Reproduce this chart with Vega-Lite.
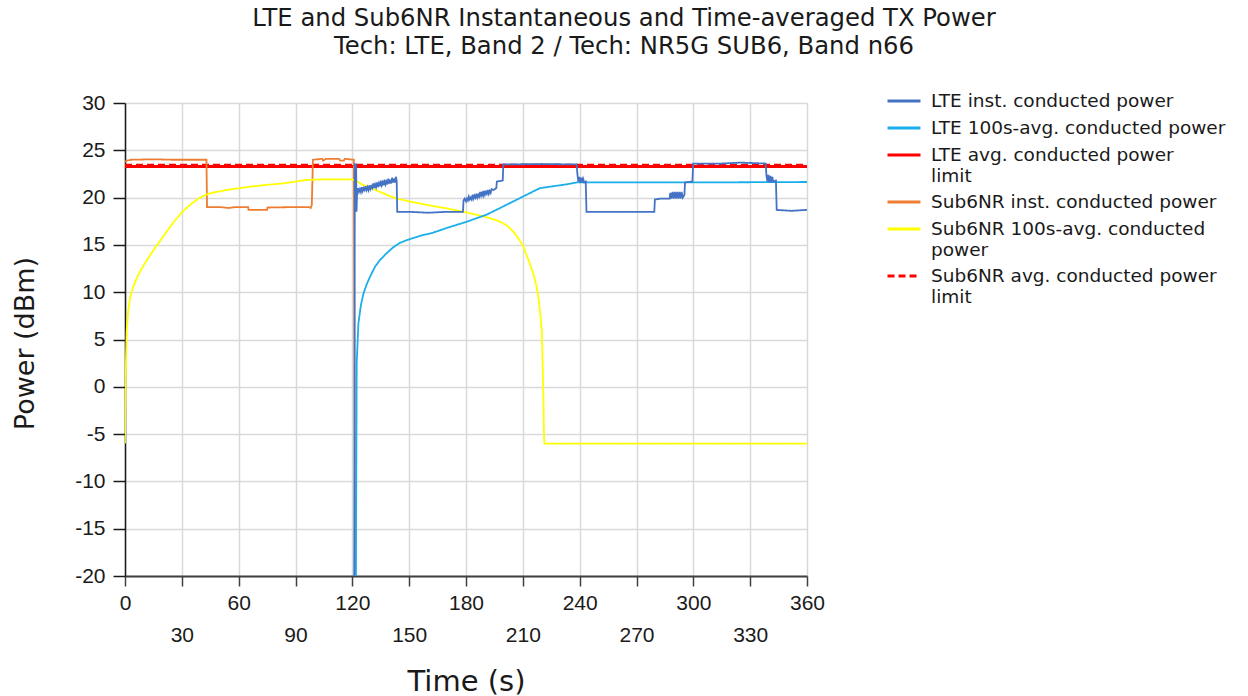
{
  "$schema": "https://vega.github.io/schema/vega-lite/v6.json",
  "width": 682,
  "height": 473,
  "autosize": {"type": "none"},
  "padding": {"left": 125, "top": 103, "right": 441, "bottom": 120},
  "background": "white",
  "config": {"view": {"stroke": null}, "font": "DejaVu Sans"},
  "title": {
    "text": ["LTE and Sub6NR Instantaneous and Time-averaged TX Power", "Tech: LTE, Band 2 / Tech: NR5G SUB6, Band n66"],
    "font": "DejaVu Sans",
    "fontSize": 24.3,
    "fontWeight": "normal",
    "color": "#1a1a1a",
    "anchor": "middle",
    "frame": "group",
    "dx": 158,
    "lineHeight": 28,
    "offset": 32
  },
  "data": {
    "values": [
      {"s": "LTE_lim", "t": 0, "v": 23.3},
      {"s": "LTE_lim", "t": 360, "v": 23.3},
      {"s": "NR_lim", "t": 0, "v": 23.42},
      {"s": "NR_lim", "t": 360, "v": 23.42},

      {"s": "NR_inst", "t": 0, "v": 23.8},
      {"s": "NR_inst", "t": 1, "v": 23.9},
      {"s": "NR_inst", "t": 3, "v": 24.0},
      {"s": "NR_inst", "t": 15, "v": 24.05},
      {"s": "NR_inst", "t": 25, "v": 24.0},
      {"s": "NR_inst", "t": 43.0, "v": 24.0},
      {"s": "NR_inst", "t": 43.3, "v": 19.0},
      {"s": "NR_inst", "t": 50, "v": 19.0},
      {"s": "NR_inst", "t": 55, "v": 18.9},
      {"s": "NR_inst", "t": 58, "v": 19.0},
      {"s": "NR_inst", "t": 65, "v": 19.0},
      {"s": "NR_inst", "t": 65.2, "v": 18.7},
      {"s": "NR_inst", "t": 75, "v": 18.7},
      {"s": "NR_inst", "t": 75.2, "v": 18.95},
      {"s": "NR_inst", "t": 90, "v": 19.0},
      {"s": "NR_inst", "t": 97, "v": 19.0},
      {"s": "NR_inst", "t": 98, "v": 18.9},
      {"s": "NR_inst", "t": 98.6, "v": 19.2},
      {"s": "NR_inst", "t": 99.2, "v": 24.0},
      {"s": "NR_inst", "t": 104, "v": 24.1},
      {"s": "NR_inst", "t": 104.6, "v": 23.9},
      {"s": "NR_inst", "t": 106, "v": 24.1},
      {"s": "NR_inst", "t": 113, "v": 24.1},
      {"s": "NR_inst", "t": 113.6, "v": 23.9},
      {"s": "NR_inst", "t": 115.5, "v": 23.9},
      {"s": "NR_inst", "t": 116, "v": 24.1},
      {"s": "NR_inst", "t": 120.8, "v": 24.0},
      {"s": "NR_inst", "t": 121.6, "v": -20},

      {"s": "NR_avg", "t": 0, "v": -6.0},
      {"s": "NR_avg", "t": 0.4, "v": 1.8},
      {"s": "NR_avg", "t": 0.9, "v": 6.0},
      {"s": "NR_avg", "t": 1.7, "v": 8.0},
      {"s": "NR_avg", "t": 2.6, "v": 9.3},
      {"s": "NR_avg", "t": 3.5, "v": 10.0},
      {"s": "NR_avg", "t": 4.4, "v": 10.6},
      {"s": "NR_avg", "t": 6, "v": 11.4},
      {"s": "NR_avg", "t": 8, "v": 12.2},
      {"s": "NR_avg", "t": 10, "v": 12.9},
      {"s": "NR_avg", "t": 13.2, "v": 13.9},
      {"s": "NR_avg", "t": 17, "v": 15.0},
      {"s": "NR_avg", "t": 22, "v": 16.4},
      {"s": "NR_avg", "t": 26, "v": 17.5},
      {"s": "NR_avg", "t": 30.8, "v": 18.6},
      {"s": "NR_avg", "t": 35, "v": 19.35},
      {"s": "NR_avg", "t": 39.6, "v": 20.0},
      {"s": "NR_avg", "t": 44, "v": 20.4},
      {"s": "NR_avg", "t": 48.4, "v": 20.6},
      {"s": "NR_avg", "t": 55, "v": 20.85},
      {"s": "NR_avg", "t": 66, "v": 21.15},
      {"s": "NR_avg", "t": 75, "v": 21.35},
      {"s": "NR_avg", "t": 83.6, "v": 21.5},
      {"s": "NR_avg", "t": 90, "v": 21.7},
      {"s": "NR_avg", "t": 95.9, "v": 21.86},
      {"s": "NR_avg", "t": 105, "v": 21.93},
      {"s": "NR_avg", "t": 118.8, "v": 21.93},
      {"s": "NR_avg", "t": 121.4, "v": 21.85},
      {"s": "NR_avg", "t": 125, "v": 21.4},
      {"s": "NR_avg", "t": 130, "v": 21.0},
      {"s": "NR_avg", "t": 134.6, "v": 20.6},
      {"s": "NR_avg", "t": 140, "v": 20.15},
      {"s": "NR_avg", "t": 143.4, "v": 19.9},
      {"s": "NR_avg", "t": 150, "v": 19.6},
      {"s": "NR_avg", "t": 160, "v": 19.2},
      {"s": "NR_avg", "t": 170, "v": 18.85},
      {"s": "NR_avg", "t": 178.6, "v": 18.5},
      {"s": "NR_avg", "t": 187.4, "v": 18.1},
      {"s": "NR_avg", "t": 193, "v": 17.8},
      {"s": "NR_avg", "t": 198, "v": 17.45},
      {"s": "NR_avg", "t": 202, "v": 17.0},
      {"s": "NR_avg", "t": 205, "v": 16.4},
      {"s": "NR_avg", "t": 208, "v": 15.6},
      {"s": "NR_avg", "t": 210.3, "v": 14.8},
      {"s": "NR_avg", "t": 213, "v": 13.4},
      {"s": "NR_avg", "t": 215.5, "v": 12.0},
      {"s": "NR_avg", "t": 217, "v": 10.8},
      {"s": "NR_avg", "t": 218.2, "v": 9.5},
      {"s": "NR_avg", "t": 219.3, "v": 7.5},
      {"s": "NR_avg", "t": 220, "v": 6.0},
      {"s": "NR_avg", "t": 220.5, "v": 2.1},
      {"s": "NR_avg", "t": 220.9, "v": -1.7},
      {"s": "NR_avg", "t": 221.2, "v": -5.5},
      {"s": "NR_avg", "t": 221.4, "v": -6.0},
      {"s": "NR_avg", "t": 360, "v": -6.0},

      {"s": "LTE_avg", "t": 121.9, "v": -20},
      {"s": "LTE_avg", "t": 122.3, "v": 2.5},
      {"s": "LTE_avg", "t": 123.2, "v": 6.7},
      {"s": "LTE_avg", "t": 124.5, "v": 8.6},
      {"s": "LTE_avg", "t": 125.8, "v": 9.8},
      {"s": "LTE_avg", "t": 127.5, "v": 10.8},
      {"s": "LTE_avg", "t": 129.5, "v": 11.7},
      {"s": "LTE_avg", "t": 132, "v": 12.7},
      {"s": "LTE_avg", "t": 134.6, "v": 13.4},
      {"s": "LTE_avg", "t": 138, "v": 14.1},
      {"s": "LTE_avg", "t": 141.6, "v": 14.75},
      {"s": "LTE_avg", "t": 145, "v": 15.2},
      {"s": "LTE_avg", "t": 148.7, "v": 15.5},
      {"s": "LTE_avg", "t": 155.7, "v": 15.95},
      {"s": "LTE_avg", "t": 162.7, "v": 16.3},
      {"s": "LTE_avg", "t": 170, "v": 16.8},
      {"s": "LTE_avg", "t": 180.4, "v": 17.45},
      {"s": "LTE_avg", "t": 190.9, "v": 18.2},
      {"s": "LTE_avg", "t": 198, "v": 18.9},
      {"s": "LTE_avg", "t": 204, "v": 19.5},
      {"s": "LTE_avg", "t": 212, "v": 20.3},
      {"s": "LTE_avg", "t": 219, "v": 21.0},
      {"s": "LTE_avg", "t": 226, "v": 21.2},
      {"s": "LTE_avg", "t": 233, "v": 21.4},
      {"s": "LTE_avg", "t": 238.4, "v": 21.6},
      {"s": "LTE_avg", "t": 300, "v": 21.6},
      {"s": "LTE_avg", "t": 360, "v": 21.65},

      {"s": "LTE_inst", "t": 121.0, "v": -20},
      {"s": "LTE_inst", "t": 121.3, "v": 23.5},
      {"s": "LTE_inst", "t": 122.0, "v": 23.5},
      {"s": "LTE_inst", "t": 122.2, "v": 18.5},
      {"s": "LTE_inst", "t": 122.5, "v": 20.5},
      {"s": "LTE_inst", "t": 123, "v": 21.0},
      {"s": "LTE_inst", "t": 123.5, "v": 20.6},
      {"s": "LTE_inst", "t": 124, "v": 20.9},
      {"s": "LTE_inst", "t": 124.5, "v": 20.6},
      {"s": "LTE_inst", "t": 125, "v": 21.1},
      {"s": "LTE_inst", "t": 125.5, "v": 20.7},
      {"s": "LTE_inst", "t": 126, "v": 21.0},
      {"s": "LTE_inst", "t": 126.5, "v": 20.8},
      {"s": "LTE_inst", "t": 127, "v": 21.2},
      {"s": "LTE_inst", "t": 127.5, "v": 20.8},
      {"s": "LTE_inst", "t": 128, "v": 21.1},
      {"s": "LTE_inst", "t": 128.5, "v": 20.8},
      {"s": "LTE_inst", "t": 129, "v": 21.3},
      {"s": "LTE_inst", "t": 129.5, "v": 20.9},
      {"s": "LTE_inst", "t": 130, "v": 21.2},
      {"s": "LTE_inst", "t": 130.5, "v": 21.0},
      {"s": "LTE_inst", "t": 131, "v": 21.5},
      {"s": "LTE_inst", "t": 131.5, "v": 21.0},
      {"s": "LTE_inst", "t": 132, "v": 21.4},
      {"s": "LTE_inst", "t": 132.5, "v": 21.1},
      {"s": "LTE_inst", "t": 133, "v": 21.6},
      {"s": "LTE_inst", "t": 133.5, "v": 21.1},
      {"s": "LTE_inst", "t": 134, "v": 21.5},
      {"s": "LTE_inst", "t": 134.5, "v": 21.2},
      {"s": "LTE_inst", "t": 135, "v": 21.8},
      {"s": "LTE_inst", "t": 135.5, "v": 21.3},
      {"s": "LTE_inst", "t": 136, "v": 21.6},
      {"s": "LTE_inst", "t": 136.5, "v": 21.3},
      {"s": "LTE_inst", "t": 137, "v": 21.9},
      {"s": "LTE_inst", "t": 137.5, "v": 21.4},
      {"s": "LTE_inst", "t": 138, "v": 21.7},
      {"s": "LTE_inst", "t": 138.5, "v": 21.4},
      {"s": "LTE_inst", "t": 139, "v": 22.0},
      {"s": "LTE_inst", "t": 139.5, "v": 21.5},
      {"s": "LTE_inst", "t": 140, "v": 21.9},
      {"s": "LTE_inst", "t": 140.5, "v": 21.5},
      {"s": "LTE_inst", "t": 141, "v": 22.1},
      {"s": "LTE_inst", "t": 141.5, "v": 21.6},
      {"s": "LTE_inst", "t": 142, "v": 22.0},
      {"s": "LTE_inst", "t": 142.5, "v": 21.6},
      {"s": "LTE_inst", "t": 143.0, "v": 22.2},
      {"s": "LTE_inst", "t": 143.4, "v": 21.8},
      {"s": "LTE_inst", "t": 143.7, "v": 18.5},
      {"s": "LTE_inst", "t": 150, "v": 18.5},
      {"s": "LTE_inst", "t": 160, "v": 18.4},
      {"s": "LTE_inst", "t": 170, "v": 18.5},
      {"s": "LTE_inst", "t": 178.4, "v": 18.5},
      {"s": "LTE_inst", "t": 178.7, "v": 19.7},
      {"s": "LTE_inst", "t": 179.3, "v": 19.9},
      {"s": "LTE_inst", "t": 180, "v": 19.6},
      {"s": "LTE_inst", "t": 180.5, "v": 19.9},
      {"s": "LTE_inst", "t": 181, "v": 19.7},
      {"s": "LTE_inst", "t": 181.5, "v": 20.1},
      {"s": "LTE_inst", "t": 182, "v": 19.8},
      {"s": "LTE_inst", "t": 182.5, "v": 20.0},
      {"s": "LTE_inst", "t": 183, "v": 19.8},
      {"s": "LTE_inst", "t": 183.5, "v": 20.3},
      {"s": "LTE_inst", "t": 184, "v": 19.9},
      {"s": "LTE_inst", "t": 184.5, "v": 20.2},
      {"s": "LTE_inst", "t": 185, "v": 20.0},
      {"s": "LTE_inst", "t": 185.5, "v": 20.4},
      {"s": "LTE_inst", "t": 186, "v": 20.0},
      {"s": "LTE_inst", "t": 186.5, "v": 20.3},
      {"s": "LTE_inst", "t": 187, "v": 20.1},
      {"s": "LTE_inst", "t": 187.5, "v": 20.6},
      {"s": "LTE_inst", "t": 188, "v": 20.2},
      {"s": "LTE_inst", "t": 188.5, "v": 20.5},
      {"s": "LTE_inst", "t": 189, "v": 20.2},
      {"s": "LTE_inst", "t": 189.5, "v": 20.7},
      {"s": "LTE_inst", "t": 190, "v": 20.3},
      {"s": "LTE_inst", "t": 190.5, "v": 20.6},
      {"s": "LTE_inst", "t": 191, "v": 20.4},
      {"s": "LTE_inst", "t": 191.5, "v": 20.8},
      {"s": "LTE_inst", "t": 192, "v": 20.4},
      {"s": "LTE_inst", "t": 192.5, "v": 20.7},
      {"s": "LTE_inst", "t": 193, "v": 20.5},
      {"s": "LTE_inst", "t": 193.5, "v": 20.9},
      {"s": "LTE_inst", "t": 194.4, "v": 20.8},
      {"s": "LTE_inst", "t": 196.0, "v": 21.0},
      {"s": "LTE_inst", "t": 196.3, "v": 21.7},
      {"s": "LTE_inst", "t": 199.4, "v": 21.8},
      {"s": "LTE_inst", "t": 199.7, "v": 23.5},
      {"s": "LTE_inst", "t": 220, "v": 23.55},
      {"s": "LTE_inst", "t": 238.4, "v": 23.5},
      {"s": "LTE_inst", "t": 238.8, "v": 22.5},
      {"s": "LTE_inst", "t": 239.3, "v": 21.7},
      {"s": "LTE_inst", "t": 239.8, "v": 22.2},
      {"s": "LTE_inst", "t": 240.3, "v": 21.6},
      {"s": "LTE_inst", "t": 240.8, "v": 22.1},
      {"s": "LTE_inst", "t": 241.3, "v": 21.6},
      {"s": "LTE_inst", "t": 241.8, "v": 22.0},
      {"s": "LTE_inst", "t": 242.4, "v": 21.6},
      {"s": "LTE_inst", "t": 243.2, "v": 21.7},
      {"s": "LTE_inst", "t": 243.6, "v": 18.5},
      {"s": "LTE_inst", "t": 260, "v": 18.5},
      {"s": "LTE_inst", "t": 279.4, "v": 18.5},
      {"s": "LTE_inst", "t": 279.7, "v": 19.8},
      {"s": "LTE_inst", "t": 283, "v": 19.9},
      {"s": "LTE_inst", "t": 287.5, "v": 19.9},
      {"s": "LTE_inst", "t": 287.8, "v": 20.5},
      {"s": "LTE_inst", "t": 288.4, "v": 19.9},
      {"s": "LTE_inst", "t": 289, "v": 20.6},
      {"s": "LTE_inst", "t": 289.6, "v": 19.9},
      {"s": "LTE_inst", "t": 290.2, "v": 20.6},
      {"s": "LTE_inst", "t": 290.8, "v": 19.9},
      {"s": "LTE_inst", "t": 291.4, "v": 20.6},
      {"s": "LTE_inst", "t": 292, "v": 19.9},
      {"s": "LTE_inst", "t": 292.6, "v": 20.6},
      {"s": "LTE_inst", "t": 293.2, "v": 19.9},
      {"s": "LTE_inst", "t": 293.8, "v": 20.6},
      {"s": "LTE_inst", "t": 294.4, "v": 20.0},
      {"s": "LTE_inst", "t": 295.3, "v": 20.3},
      {"s": "LTE_inst", "t": 295.6, "v": 21.6},
      {"s": "LTE_inst", "t": 299.5, "v": 21.7},
      {"s": "LTE_inst", "t": 299.9, "v": 23.6},
      {"s": "LTE_inst", "t": 315, "v": 23.6},
      {"s": "LTE_inst", "t": 325, "v": 23.7},
      {"s": "LTE_inst", "t": 338.2, "v": 23.6},
      {"s": "LTE_inst", "t": 338.6, "v": 22.3},
      {"s": "LTE_inst", "t": 339.1, "v": 21.7},
      {"s": "LTE_inst", "t": 339.6, "v": 22.4},
      {"s": "LTE_inst", "t": 340.1, "v": 21.6},
      {"s": "LTE_inst", "t": 340.6, "v": 22.3},
      {"s": "LTE_inst", "t": 341.1, "v": 21.6},
      {"s": "LTE_inst", "t": 341.6, "v": 22.2},
      {"s": "LTE_inst", "t": 342.2, "v": 21.7},
      {"s": "LTE_inst", "t": 343.6, "v": 21.8},
      {"s": "LTE_inst", "t": 344.0, "v": 18.7},
      {"s": "LTE_inst", "t": 352, "v": 18.6},
      {"s": "LTE_inst", "t": 360, "v": 18.7}
    ]
  },
  "mark": {"type": "line", "clip": true},
  "encoding": {
    "x": {
      "field": "t",
      "type": "quantitative",
      "scale": {"domain": [0, 360], "nice": false, "zero": false},
      "axis": {
        "values": [0, 30, 60, 90, 120, 150, 180, 210, 240, 270, 300, 330, 360],
        "labelExpr": "datum.value % 60 === 0 ? datum.value + '' : ['', datum.value + '']",
        "labelLineHeight": 32,
        "title": "Time (s)",
        "titleFont": "DejaVu Sans",
        "titleFontSize": 29,
        "titleFontWeight": "normal",
        "titleColor": "#1a1a1a",
        "titleBaseline": "alphabetic",
        "titleY": 114,
        "labelFont": "Liberation Sans",
        "labelFontSize": 21,
        "labelColor": "#1a1a1a",
        "labelPadding": 6,
        "labelFlush": false,
        "labelOverlap": false,
        "tickSize": 10,
        "tickColor": "#404040",
        "tickWidth": 1.5,
        "domainColor": "#404040",
        "domainWidth": 2,
        "grid": true,
        "gridColor": "#d9d9d9",
        "gridWidth": 1.5
      }
    },
    "y": {
      "field": "v",
      "type": "quantitative",
      "scale": {"domain": [-20, 30], "nice": false, "zero": false},
      "axis": {
        "values": [-20, -15, -10, -5, 0, 5, 10, 15, 20, 25, 30],
        "labelExpr": "datum.value + ''",
        "title": "Power (dBm)",
        "titleFont": "DejaVu Sans",
        "titleFontSize": 27,
        "titleFontWeight": "normal",
        "titleColor": "#1a1a1a",
        "titleBaseline": "alphabetic",
        "titleX": -92,
        "titleY": 240,
        "labelFont": "Liberation Sans",
        "labelFontSize": 21,
        "labelColor": "#1a1a1a",
        "labelPadding": 8,
        "labelOverlap": false,
        "tickSize": 12,
        "tickColor": "#1a1a1a",
        "tickWidth": 1.5,
        "domainColor": "#1a1a1a",
        "domainWidth": 1.5,
        "grid": true,
        "gridColor": "#d9d9d9",
        "gridWidth": 1.5
      }
    },
    "color": {
      "field": "s",
      "type": "nominal",
      "scale": {
        "domain": ["LTE_inst", "LTE_avg", "LTE_lim", "NR_inst", "NR_avg", "NR_lim"],
        "range": ["#4472C4", "#1AAFEA", "#FF0000", "#ED7D31", "#FFFF00", "#FF0000"]
      },
      "legend": {
        "orient": "none",
        "legendX": 769,
        "legendY": -12,
        "title": null,
        "symbolType": "M-2,0H2",
        "symbolSize": 272,
        "symbolStrokeWidth": 3,
        "labelFont": "DejaVu Sans",
        "labelFontSize": 18.5,
        "labelColor": "#1a1a1a",
        "labelLimit": 400,
        "labelOffset": 17,
        "rowPadding": 7,
        "labelExpr": "{'LTE_inst': 'LTE inst. conducted power', 'LTE_avg': 'LTE 100s-avg. conducted power', 'LTE_lim': ['LTE avg. conducted power', 'limit'], 'NR_inst': 'Sub6NR inst. conducted power', 'NR_avg': ['Sub6NR 100s-avg. conducted', 'power'], 'NR_lim': ['Sub6NR avg. conducted power', 'limit']}[datum.value]"
      }
    },
    "strokeDash": {
      "field": "s",
      "type": "nominal",
      "scale": {
        "domain": ["LTE_inst", "LTE_avg", "LTE_lim", "NR_inst", "NR_avg", "NR_lim"],
        "range": [[1, 0], [1, 0], [1, 0], [1, 0], [1, 0], [7, 4]]
      },
      "legend": {
        "orient": "none",
        "legendX": 769,
        "legendY": -12,
        "title": null,
        "symbolType": "M-2,0H2",
        "symbolSize": 272,
        "symbolStrokeWidth": 3,
        "labelFont": "DejaVu Sans",
        "labelFontSize": 18.5,
        "labelColor": "#1a1a1a",
        "labelLimit": 400,
        "labelOffset": 17,
        "rowPadding": 7,
        "labelExpr": "{'LTE_inst': 'LTE inst. conducted power', 'LTE_avg': 'LTE 100s-avg. conducted power', 'LTE_lim': ['LTE avg. conducted power', 'limit'], 'NR_inst': 'Sub6NR inst. conducted power', 'NR_avg': ['Sub6NR 100s-avg. conducted', 'power'], 'NR_lim': ['Sub6NR avg. conducted power', 'limit']}[datum.value]"
      }
    },
    "strokeWidth": {
      "condition": {"test": "indexof(datum.s, 'lim') >= 0", "value": 3},
      "value": 1.8
    }
  }
}
